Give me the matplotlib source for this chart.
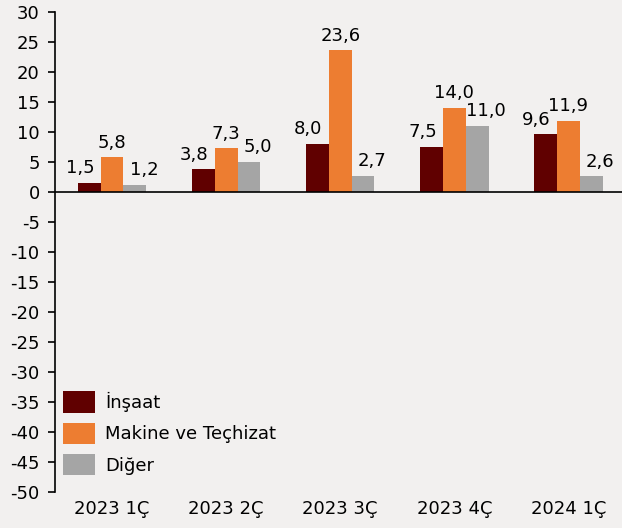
import numpy as np
import matplotlib.pyplot as plt
from matplotlib.patches import Patch

# quarters and series (annual % change)
quarters = ['2023 1Ç', '2023 2Ç', '2023 3Ç', '2023 4Ç', '2024 1Ç']
insaat = [1.5, 3.8, 8.0, 7.5, 9.6]
makine = [5.8, 7.3, 23.6, 14.0, 11.9]
diger = [1.2, 5.0, 2.7, 11.0, 2.6]

series_names = ['İnşaat', 'Makine ve Teçhizat', 'Diğer']
colors = ['#600000', '#ED7D31', '#A5A5A5']
bg = '#F2F0EF'

plt.rcParams['font.family'] = ['DejaVu Sans']
plt.rcParams['axes.unicode_minus'] = False

fig = plt.figure(figsize=(6.22, 5.28), dpi=100, facecolor=bg)
ax = fig.add_axes([55 / 622, 36 / 528, 567 / 622, 480 / 528])
ax.set_facecolor(bg)

x = np.arange(len(quarters))
w = 0.2
# outer labels are nudged sideways like in the original
nudges = [-6.5, 0, 6.5]
for k, (vals, col) in enumerate(zip([insaat, makine, diger], colors)):
    pos = x + (k - 1) * w
    ax.bar(pos, vals, width=w, color=col, edgecolor='none', zorder=2)
    for xi, v in zip(pos, vals):
        ax.annotate(f'{v:.1f}'.replace('.', ','), (xi, v), xytext=(nudges[k], 4),
                    textcoords='offset points', ha='center', va='bottom',
                    fontsize=13)

ax.axhline(0, color='black', lw=1.2, zorder=3)
ax.set_ylim(-50, 30)
ax.set_yticks(np.arange(-50, 31, 5))
ax.set_xlim(-0.5, 4.47)
ax.set_xticks(x)
ax.set_xticklabels(quarters)

for s in ['top', 'right', 'bottom']:
    ax.spines[s].set_visible(False)
ax.spines['left'].set_linewidth(1.2)
ax.tick_params(axis='y', length=5, width=1.2, labelsize=13, pad=6)
ax.tick_params(axis='x', length=0, labelsize=13, pad=6)

handles = [Patch(facecolor=c, edgecolor='none') for c in colors]
ax.legend(handles, series_names, loc='upper left', bbox_to_anchor=(0.002, 0.225),
          frameon=False, fontsize=13, handlelength=1.75, handleheight=1.45,
          labelspacing=0.55, handletextpad=0.55, borderaxespad=0)

fig.savefig('out.png', dpi=100, facecolor=bg)
